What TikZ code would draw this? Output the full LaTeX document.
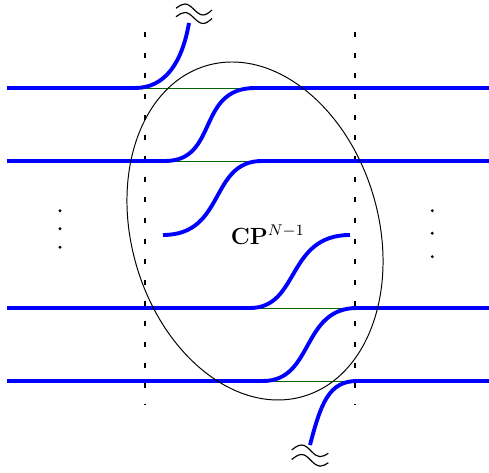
\documentclass[tikz,border=0pt]{standalone}
\begin{document}
\begin{tikzpicture}[
x=0.513pt,y=0.513pt,
strand/.style={draw=blue,line width=2pt},
rung/.style={draw=green!40!black,line width=0.5pt},
cut/.style={draw=black,line width=0.55pt,dash pattern=on 2.6pt off 8pt},
wave/.style={draw=black,line width=0.6pt},
blob/.style={draw=black,line width=0.5pt},
dot/.style={fill=black}
]
\useasboundingbox (0,0) rectangle (489,473);
% rungs and cuts
\foreach \y in {385,312,165,92}
 \draw[rung] (145,\y) -- (355,\y);
\foreach \x in {145,355}
 \draw[cut] (\x,441) -- (\x,68);
% strands
\draw[strand] (7,385) -- (135,385) .. controls (165,385) and (182,410) .. (189,450);
\draw[strand] (7,312) -- (165,312) .. controls (219,312) and (196,385) .. (255,385) -- (489,385);
\draw[strand] (163,238) .. controls (226,238) and (209,312) .. (262,312) -- (489,312);
\draw[strand] (7,165) -- (250,165) .. controls (300,165) and (286,238) .. (350,238);
\draw[strand] (7,92) -- (263,92) .. controls (314,92) and (301,165) .. (357,165) -- (489,165);
\draw[strand] (310,28) .. controls (321,70) and (329,92) .. (357,92) -- (489,92);
% the region
\draw[blob,rotate around={16.3:(255,242)}] (255,242) ellipse[x radius=123.5,y radius=172.3];
% breaks at the open ends
\foreach \d in {0,8.5}
 \draw[wave,shift={(0,-\d)}] (176,464.7) sin (185,469) cos (194,463.5) sin (203,458) cos (212,463);
\foreach \d in {0,9.5}
 \draw[wave,shift={(0,-\d)}] (291.7,23) sin (301.7,28) cos (311.7,21.3) sin (320,16.3) cos (328.3,19.7);
% dots
\foreach \y in {262.3,244.3,225.7}
 \fill[dot] (60,\y) circle[radius=1.6];
\foreach \y in {262.3,239.7,216.3}
 \fill[dot] (432.3,\y) circle[radius=1.6];
\node[anchor=base west,inner sep=0,font=\fontsize{11.5pt}{14pt}\selectfont] (space) at (230.5,228) {$\mathbf{CP}^{N-1}$};
\end{tikzpicture}
\end{document}
